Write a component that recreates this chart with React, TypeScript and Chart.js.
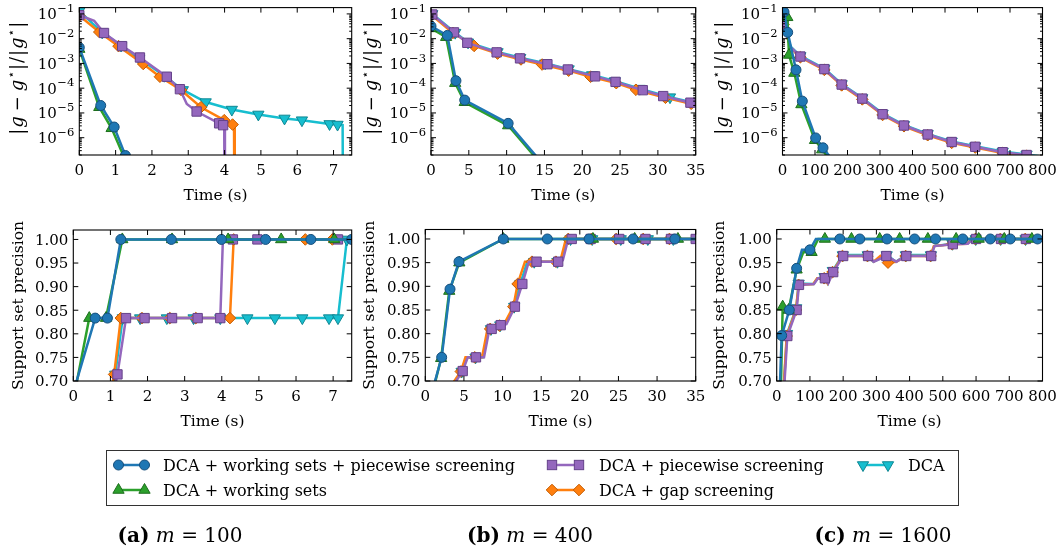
import React, { useEffect, useRef } from "react";
import { Chart, registerables } from "chart.js";
Chart.register(...registerables);

type Pt = [number, number];

// ---------- relative gap |g - g*| / |g*|, m = 100 ----------
const gap100_wsPw: Pt[] = [[0, 4.4e-3], [0.59, 2e-5], [0.96, 2.7e-6], [1.27, 1.9e-7]];
const gap100_wsPw_line: Pt[] = [[1.6, 4e-9]];
const gap100_ws: Pt[] = [[0, 3.8e-3], [0.55, 1.7e-5], [0.89, 2.4e-6], [1.22, 1.8e-7]];
const gap100_ws_line: Pt[] = [[1.55, 4e-9]];
const gap100_pw: Pt[] = [[0, 8.9e-2], [0.68, 1.7e-2], [1.18, 5e-3], [1.67, 1.74e-3], [2.41, 2.9e-4], [2.77, 9.1e-5], [3.23, 1.14e-5], [3.85, 3.8e-6], [3.96, 3.2e-6]];
const gap100_pw_line: Pt[] = [[0.41, 5.3e-2], [2.96, 2.3e-5], [3.99, 3.1e-6], [4.01, 1e-12]];
const gap100_gap: Pt[] = [[0, 8.5e-2], [0.55, 1.86e-2], [1.08, 5e-3], [1.76, 9.5e-4], [2.22, 2.9e-4], [2.8, 8.5e-5], [3.35, 1.7e-5], [3.99, 5.1e-6], [4.22, 3.4e-6]];
const gap100_gap_line: Pt[] = [[4.26, 3.3e-6], [4.28, 1e-12]];
const gap100_dca: Pt[] = [[0, 1.3e-1], [0.63, 1.8e-2], [1.15, 5.3e-3], [1.65, 1.6e-3], [2.34, 3.2e-4], [2.85, 8.5e-5], [3.48, 2.75e-5], [4.2, 1.37e-5], [4.93, 8.7e-6], [5.65, 6e-6], [6.13, 5.1e-6], [6.89, 3.6e-6], [7.11, 3.4e-6]];
const gap100_dca_line: Pt[] = [[7.25, 3.2e-6], [7.27, 1e-12]];

// ---------- relative gap, m = 400 ----------
const gap400_wsPw: Pt[] = [[0, 3.2e-2], [2.16, 1.35e-2], [3.3, 2e-4], [4.46, 3.3e-5], [10.2, 3.8e-6]];
const gap400_wsPw_line: Pt[] = [[20, 1.2e-9]];
const gap400_ws: Pt[] = [[0, 2.6e-2], [2.0, 1.15e-2], [3.2, 1.6e-4], [4.46, 2.7e-5], [10.2, 3.1e-6]];
const gap400_ws_line: Pt[] = [[20, 1e-9]];
const gap400_pw: Pt[] = [[0.17, 9.5e-2], [3.04, 1.8e-2], [4.8, 6.8e-3], [8.68, 2.8e-3], [11.77, 1.6e-3], [15.39, 9.3e-4], [18.1, 5.7e-4], [21.7, 3e-4], [24.4, 1.8e-4], [28.0, 8.3e-5], [30.7, 4.8e-5], [34.3, 2.6e-5]];
const gap400_pw_line: Pt[] = [[36, 2e-5]];
const gap400_gap: Pt[] = [[0.05, 9e-2], [2.9, 1.7e-2], [5.7, 5.1e-3], [8.8, 2.5e-3], [11.9, 1.45e-3], [14.7, 9e-4], [18.2, 5.1e-4], [21.1, 2.9e-4], [24.5, 1.6e-4], [27.1, 8.6e-5], [31.0, 4.1e-5], [34.4, 2.35e-5]];
const gap400_gap_line: Pt[] = [[36, 1.85e-5]];
const gap400_dca: Pt[] = [[0.17, 1.0e-1], [3.2, 1.75e-2], [4.9, 7.1e-3], [8.8, 2.9e-3], [11.8, 1.7e-3], [15.1, 1.02e-3], [18.2, 5.9e-4], [21.3, 3.4e-4], [24.3, 1.94e-4], [27.6, 9.6e-5], [31.6, 4.35e-5]];
const gap400_dca_line: Pt[] = [[36, 2.1e-5]];

// ---------- relative gap, m = 1600 ----------
const gap1600_wsPw: Pt[] = [[4.6, 1.2e-1], [16, 1.8e-2], [41.5, 5.5e-4], [61, 3e-5], [102, 9.8e-7], [124.6, 3.9e-7]];
const gap1600_wsPw_line: Pt[] = [[200, 2e-8]];
const gap1600_ws: Pt[] = [[14.8, 7.3e-2], [20, 2.2e-3], [36.4, 4.1e-4], [58, 2.2e-5], [100, 7.9e-7], [122, 3.3e-7]];
const gap1600_ws_line: Pt[] = [[2, 3e-1], [200, 1.5e-8]];
const gap1600_pw: Pt[] = [[3, 4e-2], [55, 1.9e-3], [128.7, 5.9e-4], [182, 1.4e-4], [245.5, 3.8e-5], [308, 8.9e-6], [373.8, 3.1e-6], [446.7, 1.35e-6], [520.6, 6.7e-7], [593, 4.3e-7], [677.5, 2.6e-7], [751, 2e-7]];
const gap1600_pw_line: Pt[] = [[25, 4.5e-3], [830, 1.4e-7]];
const gap1600_gap: Pt[] = [[3, 3.7e-2], [55, 1.77e-3], [128.7, 5.5e-4], [182, 1.3e-4], [245.5, 3.53e-5], [308, 8.3e-6], [373.8, 2.9e-6], [446.7, 1.26e-6], [520.6, 6.2e-7], [593, 4e-7], [677.5, 2.42e-7], [751, 1.86e-7]];
const gap1600_gap_line: Pt[] = [[25, 4.2e-3], [830, 1.3e-7]];
const gap1600_dca: Pt[] = [[3, 4.25e-2], [55, 2.0e-3], [128.7, 6.25e-4], [182, 1.48e-4], [245.5, 4.0e-5], [308, 9.4e-6], [373.8, 3.3e-6], [446.7, 1.43e-6], [520.6, 7.1e-7], [593, 4.55e-7], [677.5, 2.75e-7], [751, 2.12e-7]];
const gap1600_dca_line: Pt[] = [[25, 4.8e-3], [830, 1.5e-7]];

// ---------- support set precision, m = 100 ----------
const prec100_wsPw: Pt[] = [[0.59, 0.8333], [0.92, 0.8333], [1.28, 1], [2.64, 1], [3.99, 1], [5.18, 1], [6.4, 1], [7.5, 1]];
const prec100_wsPw_line: Pt[] = [[0, 0.676]];
const prec100_ws: Pt[] = [[0.43, 0.8333], [0.88, 0.8333], [1.32, 1], [2.66, 1], [4.17, 1], [5.6, 1], [7.03, 1]];
const prec100_ws_line: Pt[] = [[0, 0.66], [7.6, 1]];
const prec100_pw: Pt[] = [[1.19, 0.714], [1.42, 0.8333], [1.92, 0.8333], [2.66, 0.8333], [3.35, 0.8333], [3.96, 0.8333], [4.3, 1], [4.96, 1], [7.13, 1]];
const prec100_pw_line: Pt[] = [[1.1, 0.68], [4.03, 1], [7.6, 1]];
const prec100_gap: Pt[] = [[1.1, 0.714], [1.28, 0.8333], [1.85, 0.8333], [2.6, 0.8333], [3.3, 0.8333], [4.22, 0.8333], [4.32, 1], [6.25, 1], [6.98, 1]];
const prec100_gap_line: Pt[] = [[1.02, 0.68], [7.6, 1]];
const prec100_dca: Pt[] = [[1.13, 0.714], [1.33, 0.8333], [1.8, 0.8333], [2.52, 0.8333], [3.24, 0.8333], [3.96, 0.8333], [4.69, 0.8333], [5.43, 0.8333], [6.17, 0.8333], [6.89, 0.8333], [7.13, 0.8333], [7.37, 1]];
const prec100_dca_line: Pt[] = [[1.05, 0.68], [7.6, 1]];

// ---------- support set precision, m = 400 ----------
const prec400_wsPw: Pt[] = [[2.12, 0.75], [3.2, 0.894], [4.36, 0.952], [10.1, 1], [15.8, 1], [21.2, 1], [26.9, 1], [32.3, 1]];
const prec400_wsPw_line: Pt[] = [[0.4, 0.65], [36, 1]];
const prec400_ws: Pt[] = [[2.05, 0.748], [3.1, 0.89], [4.4, 0.95], [10.1, 1], [21.7, 1], [27.1, 1], [32.7, 1]];
const prec400_ws_line: Pt[] = [[0.4, 0.64], [36, 1]];
const prec400_pw: Pt[] = [[4.84, 0.721], [6.56, 0.75], [8.59, 0.81], [9.76, 0.818], [11.6, 0.857], [12.56, 0.905], [14.4, 0.952], [17.2, 0.952], [18.95, 1], [21.4, 1], [25.1, 1], [28.5, 1], [31.8, 1], [35, 1]];
const prec400_pw_line: Pt[] = [[3.6, 0.69], [5.5, 0.75], [7.6, 0.75], [8.3, 0.81], [10.5, 0.82], [13.4, 0.952], [17.8, 0.955], [18.5, 1]];
const prec400_gap: Pt[] = [[4.6, 0.72], [6.4, 0.75], [8.4, 0.81], [9.6, 0.817], [11.4, 0.857], [11.95, 0.905], [13.8, 0.952], [16.9, 0.952], [18.5, 1], [21.5, 1], [24.7, 1], [28.2, 1], [31.6, 1]];
const prec400_gap_line: Pt[] = [[3.35, 0.69], [5.2, 0.75], [7.35, 0.75], [8.05, 0.81], [10.2, 0.82], [12.9, 0.952], [17.5, 0.955], [18.2, 1], [36, 1]];
const prec400_dca: Pt[] = [[4.7, 0.72], [6.5, 0.75], [8.5, 0.81], [9.7, 0.818], [11.5, 0.857], [12.3, 0.905], [14.1, 0.952], [17.1, 0.952], [18.8, 1], [21.6, 1], [25.3, 1], [28.8, 1], [32.1, 1]];
const prec400_dca_line: Pt[] = [[3.5, 0.69], [5.35, 0.75], [7.5, 0.75], [8.2, 0.81], [10.35, 0.82], [13.2, 0.952], [17.65, 0.955], [18.35, 1], [36, 1]];

// ---------- support set precision, m = 1600 ----------
const prec1600_wsPw: Pt[] = [[15, 0.796], [38, 0.85], [60, 0.938], [100, 0.977], [190, 1], [250, 1], [332, 1], [415, 1], [478, 1], [560, 1], [643, 1], [703, 1], [785, 1]];
const prec1600_wsPw_line: Pt[] = [[5, 0.6], [76, 0.977], [118, 1], [820, 1]];
const prec1600_ws: Pt[] = [[18, 0.857], [36, 0.85], [60, 0.935], [105, 0.972], [145, 1], [225, 1], [310, 1], [370, 1], [455, 1], [540, 1], [608, 1], [685, 1], [768, 1]];
const prec1600_ws_line: Pt[] = [[10, 0.6], [80, 0.972], [125, 1], [820, 1]];
const prec1600_pw: Pt[] = [[32, 0.795], [60, 0.85], [67, 0.903], [145, 0.917], [170, 0.93], [200, 0.964], [275, 0.964], [330, 0.964], [390, 0.964], [465, 0.964], [530, 0.989], [600, 1], [675, 1], [750, 1]];
const prec1600_pw_line: Pt[] = [[15, 0.6], [112, 0.905], [124, 0.917], [155, 0.906], [292, 0.952], [360, 0.952], [475, 0.985], [575, 0.99], [590, 1], [820, 1]];
const prec1600_gap: Pt[] = [[30, 0.795], [58, 0.85], [66, 0.903], [143, 0.917], [168, 0.93], [198, 0.964], [273, 0.964], [335, 0.95], [388, 0.964], [463, 0.964], [528, 0.989], [598, 1], [673, 1], [748, 1]];
const prec1600_gap_line: Pt[] = [[14, 0.6], [110, 0.905], [122, 0.917], [153, 0.906], [292, 0.952], [312, 0.964], [360, 0.952], [473, 0.985], [573, 0.99], [588, 1], [820, 1]];
const prec1600_dca: Pt[] = [[31, 0.8], [59, 0.854], [66, 0.906], [144, 0.92], [169, 0.933], [199, 0.966], [274, 0.966], [331, 0.966], [389, 0.966], [464, 0.966], [529, 0.99], [599, 1], [674, 1], [749, 1]];
const prec1600_dca_line: Pt[] = [[14, 0.6], [111, 0.905], [123, 0.917], [154, 0.906], [291, 0.952], [359, 0.952], [474, 0.985], [574, 0.99], [589, 1], [820, 1]];

// ---------- ticks ----------
const ticks_t100 = [0, 1, 2, 3, 4, 5, 6, 7];
const ticks_t400 = [0, 5, 10, 15, 20, 25, 30, 35];
const ticks_t1600 = [0, 100, 200, 300, 400, 500, 600, 700, 800];
const ticks_gap = [1e-6, 1e-5, 1e-4, 1e-3, 1e-2, 1e-1];
const ticks_prec = [0.7, 0.75, 0.8, 0.85, 0.9, 0.95, 1.0];

const captions = [
  { tag: "(a)", m: "100" },
  { tag: "(b)", m: "400" },
  { tag: "(c)", m: "1600" },
];

// ---------- styles ----------
const W = 1060;
const H = 550;
const FONT = "'DejaVu Serif', 'Liberation Serif', serif";

type SKey = "wsPw" | "ws" | "pw" | "gap" | "dca";
const STYLE: Record<SKey, { color: string; edge: string; shape: string; r: number; rot: number; label: string }> = {
  wsPw: { color: "#1f77b4", edge: "#174f7c", shape: "circle", r: 5, rot: 0, label: "DCA + working sets + piecewise screening" },
  ws: { color: "#2ca02c", edge: "#1d6e1d", shape: "triangle", r: 6.5, rot: 0, label: "DCA + working sets" },
  pw: { color: "#9467bd", edge: "#65428a", shape: "rect", r: 6.6, rot: 0, label: "DCA + piecewise screening" },
  gap: { color: "#ff7f0e", edge: "#c45c00", shape: "rectRot", r: 5.8, rot: 0, label: "DCA + gap screening" },
  dca: { color: "#17becf", edge: "#0f8793", shape: "triangle", r: 6.5, rot: 180, label: "DCA" },
};

interface SeriesSpec { key: SKey; marks: Pt[]; line: Pt[] }
interface PanelSpec {
  box: [number, number, number, number];
  x: [number, number];
  xTicks: number[];
  y: [number, number];
  yTicks: number[];
  log: boolean;
  yTitleX: number;
  series: SeriesSpec[];
}

const mk = (wsPw: Pt[], wsPwL: Pt[], ws: Pt[], wsL: Pt[], pw: Pt[], pwL: Pt[], gap: Pt[], gapL: Pt[], dca: Pt[], dcaL: Pt[]): SeriesSpec[] => [
  { key: "wsPw", marks: wsPw, line: wsPwL },
  { key: "ws", marks: ws, line: wsL },
  { key: "pw", marks: pw, line: pwL },
  { key: "gap", marks: gap, line: gapL },
  { key: "dca", marks: dca, line: dcaL },
];

const PANELS: PanelSpec[] = [
  {
    box: [79.3, 5, 351.7, 155], x: [0, 7.5], xTicks: ticks_t100, y: [2e-7, 0.18], yTicks: ticks_gap, log: true, yTitleX: 17,
    series: mk(gap100_wsPw, gap100_wsPw_line, gap100_ws, gap100_ws_line, gap100_pw, gap100_pw_line, gap100_gap, gap100_gap_line, gap100_dca, gap100_dca_line),
  },
  {
    box: [431, 5, 695.7, 155], x: [0, 35], xTicks: ticks_t400, y: [2e-7, 0.18], yTicks: ticks_gap, log: true, yTitleX: 371,
    series: mk(gap400_wsPw, gap400_wsPw_line, gap400_ws, gap400_ws_line, gap400_pw, gap400_pw_line, gap400_gap, gap400_gap_line, gap400_dca, gap400_dca_line),
  },
  {
    box: [782.5, 5, 1042.5, 155], x: [0, 800], xTicks: ticks_t1600, y: [2e-7, 0.18], yTicks: ticks_gap, log: true, yTitleX: 722,
    series: mk(gap1600_wsPw, gap1600_wsPw_line, gap1600_ws, gap1600_ws_line, gap1600_pw, gap1600_pw_line, gap1600_gap, gap1600_gap_line, gap1600_dca, gap1600_dca_line),
  },
  {
    box: [73.3, 230, 351.7, 381], x: [0, 7.5], xTicks: ticks_t100, y: [0.7, 1.02], yTicks: ticks_prec, log: false, yTitleX: 17,
    series: mk(prec100_wsPw, prec100_wsPw_line, prec100_ws, prec100_ws_line, prec100_pw, prec100_pw_line, prec100_gap, prec100_gap_line, prec100_dca, prec100_dca_line),
  },
  {
    box: [425.3, 229.5, 695.7, 381], x: [0, 35], xTicks: ticks_t400, y: [0.7, 1.02], yTicks: ticks_prec, log: false, yTitleX: 368,
    series: mk(prec400_wsPw, prec400_wsPw_line, prec400_ws, prec400_ws_line, prec400_pw, prec400_pw_line, prec400_gap, prec400_gap_line, prec400_dca, prec400_dca_line),
  },
  {
    box: [776.7, 229.5, 1042.5, 381], x: [0, 800], xTicks: ticks_t1600, y: [0.7, 1.02], yTicks: ticks_prec, log: false, yTitleX: 718,
    series: mk(prec1600_wsPw, prec1600_wsPw_line, prec1600_ws, prec1600_ws_line, prec1600_pw, prec1600_pw_line, prec1600_gap, prec1600_gap_line, prec1600_dca, prec1600_dca_line),
  },
];

function buildDataset(s: SeriesSpec) {
  const st = STYLE[s.key];
  const pts = [
    ...s.marks.map((p) => ({ x: p[0], y: p[1], m: true })),
    ...s.line.map((p) => ({ x: p[0], y: p[1], m: false })),
  ].sort((a, b) => a.x - b.x);
  return {
    data: pts.map((p) => ({ x: p.x, y: p.y })),
    borderColor: st.color,
    backgroundColor: st.color,
    borderWidth: 2.5,
    pointRadius: pts.map((p) => (p.m ? st.r : 0)),
    pointHoverRadius: 0,
    pointStyle: st.shape,
    pointRotation: st.rot,
    pointBackgroundColor: st.color,
    pointBorderColor: st.edge,
    pointBorderWidth: 1,
    tension: 0,
    clip: 0,
  };
}

function drawGapTitle(ctx: CanvasRenderingContext2D, cx: number, cy: number) {
  const up = `18px ${FONT}`;
  const it = `italic 18px ${FONT}`;
  const sup = `12px 'DejaVu Sans', ${FONT}`;
  const parts: { t: string; f: string; dy: number }[] = [
    { t: "|", f: up, dy: 0 },
    { t: "g", f: it, dy: 0 },
    { t: "−", f: up, dy: 0 },
    { t: "g", f: it, dy: 0 },
    { t: "⋆", f: sup, dy: -8 },
    { t: "|", f: up, dy: 0 },
    { t: "/", f: up, dy: 0 },
    { t: "|", f: up, dy: 0 },
    { t: "g", f: it, dy: 0 },
    { t: "⋆", f: sup, dy: -8 },
    { t: "|", f: up, dy: 0 },
  ];
  const widths = parts.map((p) => { ctx.font = p.f; return ctx.measureText(p.t).width; });
  const gaps = [1, 5, 5, 1, 1, 1, 1, 1, 1, 1];
  const total = widths.reduce((a, b) => a + b, 0) + gaps.reduce((a, b) => a + b, 0);
  ctx.save();
  ctx.translate(cx, cy);
  ctx.rotate(-Math.PI / 2);
  ctx.fillStyle = "#000";
  ctx.textAlign = "left";
  ctx.textBaseline = "alphabetic";
  let x = -total / 2;
  parts.forEach((p, i) => {
    ctx.font = p.f;
    ctx.fillText(p.t, x, 6 + p.dy);
    x += widths[i] + (i < gaps.length ? gaps[i] : 0);
  });
  ctx.restore();
}

function decorPlugin(spec: PanelSpec) {
  return {
    id: "decor",
    afterDatasetsDraw(chart: any) {
      const ctx: CanvasRenderingContext2D = chart.ctx;
      const a = chart.chartArea;
      const xs = chart.scales.x;
      const ys = chart.scales.y;
      ctx.save();
      ctx.strokeStyle = "#000";
      ctx.lineWidth = 1;
      ctx.beginPath();
      for (const t of spec.xTicks) {
        const px = xs.getPixelForValue(t);
        ctx.moveTo(px, a.bottom); ctx.lineTo(px, a.bottom - 5);
        ctx.moveTo(px, a.top); ctx.lineTo(px, a.top + 5);
      }
      for (const t of spec.yTicks) {
        const py = ys.getPixelForValue(t);
        ctx.moveTo(a.left, py); ctx.lineTo(a.left + 5, py);
        ctx.moveTo(a.right, py); ctx.lineTo(a.right - 5, py);
      }
      if (spec.log) {
        for (let k = -8; k <= 0; k++) {
          for (let m = 2; m <= 9; m++) {
            const v = m * Math.pow(10, k);
            if (v < spec.y[0] || v > spec.y[1]) continue;
            const py = ys.getPixelForValue(v);
            ctx.moveTo(a.left, py); ctx.lineTo(a.left + 2.5, py);
            ctx.moveTo(a.right, py); ctx.lineTo(a.right - 2.5, py);
          }
        }
      }
      ctx.stroke();
      ctx.lineWidth = 1.1;
      ctx.strokeRect(a.left, a.top, a.right - a.left, a.bottom - a.top);

      // tick labels
      ctx.fillStyle = "#000";
      ctx.font = `15px ${FONT}`;
      ctx.textAlign = "center";
      ctx.textBaseline = "alphabetic";
      for (const t of spec.xTicks) {
        ctx.fillText(String(t), xs.getPixelForValue(t), a.bottom + 19.5);
      }
      for (const t of spec.yTicks) {
        const py = ys.getPixelForValue(t);
        if (spec.log) {
          const k = Math.round(Math.log10(t));
          const base = "10";
          const ex = "−" + String(-k);
          ctx.font = `15px ${FONT}`;
          const wb = ctx.measureText(base).width;
          ctx.font = `11.5px ${FONT}`;
          const we = ctx.measureText(ex).width;
          const x0 = a.left - 5 - wb - we - 0.5;
          ctx.textAlign = "left";
          ctx.font = `15px ${FONT}`;
          ctx.fillText(base, x0, py + 5.4);
          ctx.font = `11.5px ${FONT}`;
          ctx.fillText(ex, x0 + wb + 0.5, py - 1.8);
        } else {
          ctx.textAlign = "right";
          ctx.font = `15px ${FONT}`;
          ctx.fillText(t.toFixed(2), a.left - 5, py + 5.4);
        }
      }

      // axis titles
      ctx.textAlign = "center";
      ctx.font = `15.5px ${FONT}`;
      ctx.fillText("Time (s)", (a.left + a.right) / 2, a.bottom + 44.5);
      const cy = (a.top + a.bottom) / 2;
      if (spec.log) {
        drawGapTitle(ctx, spec.yTitleX, cy - 3);
      } else {
        ctx.save();
        ctx.translate(spec.yTitleX, cy);
        ctx.rotate(-Math.PI / 2);
        ctx.font = `15.5px ${FONT}`;
        ctx.textAlign = "center";
        ctx.fillText("Support set precision", 0, 5.5);
        ctx.restore();
      }
      ctx.restore();
    },
  };
}

function Panel({ spec }: { spec: PanelSpec }) {
  const ref = useRef<HTMLCanvasElement>(null);
  useEffect(() => {
    const canvas = ref.current;
    if (!canvas) return;
    const [l, t, r, b] = spec.box;
    const chart = new Chart(canvas, {
      type: "line",
      data: { datasets: spec.series.map(buildDataset) as any },
      options: {
        animation: false,
        responsive: false,
        devicePixelRatio: 1,
        events: [],
        layout: { padding: { left: l, top: t, right: W - r, bottom: H - b } },
        plugins: { legend: { display: false }, tooltip: { enabled: false }, title: { display: false } },
        scales: {
          x: { type: "linear", display: false, min: spec.x[0], max: spec.x[1] },
          y: { type: spec.log ? "logarithmic" : "linear", display: false, min: spec.y[0], max: spec.y[1] },
        },
      } as any,
      plugins: [decorPlugin(spec) as any],
    });
    return () => chart.destroy();
  }, [spec]);
  return <canvas ref={ref} width={W} height={H} style={{ position: "absolute", left: 0, top: 0, width: W, height: H }} />;
}

function Marker({ k, x, y }: { k: SKey; x: number; y: number }) {
  const st = STYLE[k];
  const common = { fill: st.color, stroke: st.edge, strokeWidth: 1 };
  if (st.shape === "circle") return <circle cx={x} cy={y} r={st.r} {...common} />;
  if (st.shape === "rect") {
    const s = st.r * Math.SQRT1_2;
    return <rect x={x - s} y={y - s} width={2 * s} height={2 * s} {...common} />;
  }
  if (st.shape === "rectRot") {
    const r = st.r;
    return <polygon points={`${x},${y - r} ${x + r},${y} ${x},${y + r} ${x - r},${y}`} {...common} />;
  }
  const r = st.r;
  const dir = st.rot === 180 ? -1 : 1;
  const pts = [
    [x, y - dir * r],
    [x + r * 0.866, y + dir * r * 0.5],
    [x - r * 0.866, y + dir * r * 0.5],
  ].map((p) => p.join(",")).join(" ");
  return <polygon points={pts} {...common} />;
}

const LEGEND_ITEMS: { k: SKey; x1: number; x2: number; tx: number; y: number }[] = [
  { k: "wsPw", x1: 118.5, x2: 144.5, tx: 163, y: 465 },
  { k: "ws", x1: 118.5, x2: 144.5, tx: 163, y: 490 },
  { k: "pw", x1: 552, x2: 579, tx: 599, y: 465 },
  { k: "gap", x1: 552, x2: 579, tx: 599, y: 490 },
  { k: "dca", x1: 863, x2: 888, tx: 908, y: 465 },
];
const CAPTION_X = [180, 530, 883];

function Overlay() {
  return (
    <svg width={W} height={H} style={{ position: "absolute", left: 0, top: 0 }} fontFamily={FONT}>
      <rect x={106.5} y={450.5} width={852} height={55} fill="#fff" stroke="#333" strokeWidth={1} />
      {LEGEND_ITEMS.map((it) => (
        <g key={it.k}>
          <line x1={it.x1} y1={it.y} x2={it.x2} y2={it.y} stroke={STYLE[it.k].color} strokeWidth={2.5} />
          <Marker k={it.k} x={it.x1} y={it.y} />
          <Marker k={it.k} x={it.x2} y={it.y} />
          <text x={it.tx} y={it.y + 5.8} fontSize={16} fill="#000">{STYLE[it.k].label}</text>
        </g>
      ))}
      {captions.map((c, i) => (
        <text key={c.tag} x={CAPTION_X[i]} y={541.5} fontSize={20} textAnchor="middle" fill="#000">
          <tspan fontWeight="bold">{c.tag}</tspan>
          <tspan> </tspan>
          <tspan fontStyle="italic">m</tspan>
          <tspan>{" = " + c.m}</tspan>
        </text>
      ))}
    </svg>
  );
}

export default function App() {
  return (
    <div style={{ position: "absolute", left: 0, top: 0, width: W, height: H, background: "#fff", overflow: "hidden" }}>
      {PANELS.map((p, i) => (
        <Panel key={i} spec={p} />
      ))}
      <Overlay />
    </div>
  );
}
